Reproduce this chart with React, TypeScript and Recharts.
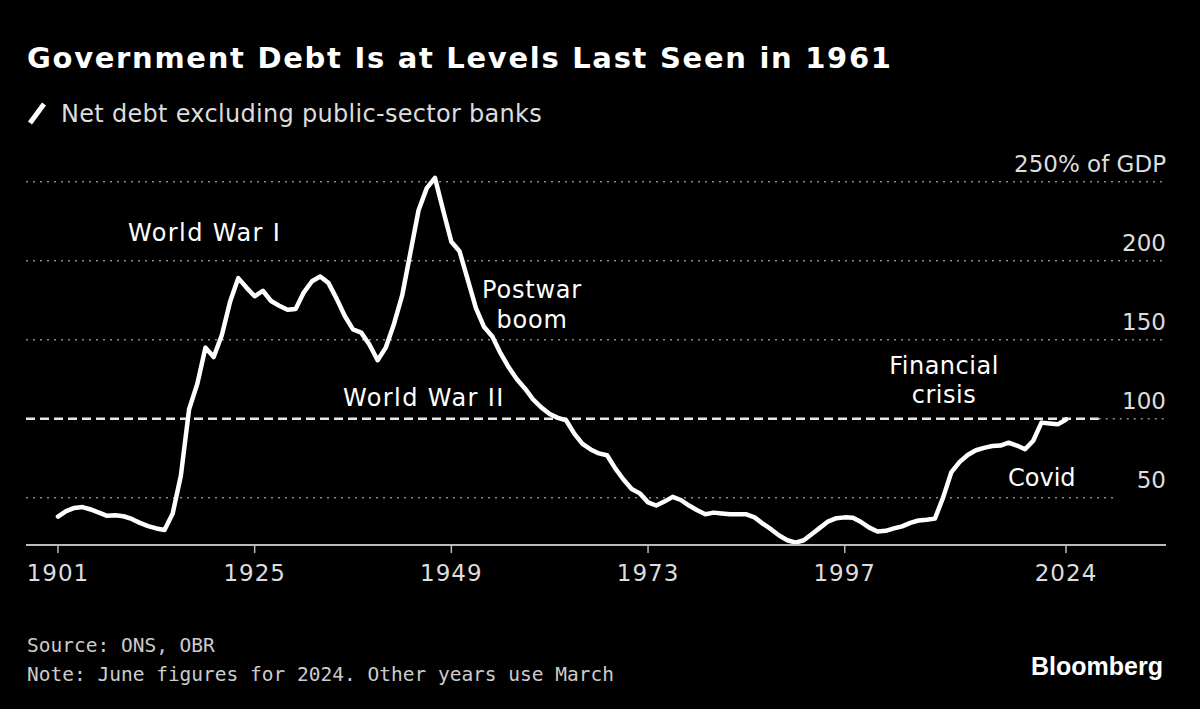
import React from "react";
import { LineChart, Line, XAxis, YAxis, ReferenceLine } from "recharts";

const startYear = 1901;
const debtValues = [
  38, 41.5, 43.5, 44, 42.5, 40.5, 38.5, 38.8, 38.2, 36.5,
  34, 32, 30.5, 29.5, 40, 64, 106, 122, 145, 139,
  153, 174, 189, 183, 177.5, 181, 174.5, 171.5, 169, 169.5,
  180, 187, 190, 186, 176, 165, 156.5, 154.5, 147, 137,
  145, 160, 178, 205, 232, 246, 252.5, 232, 212, 206,
  188, 170, 158, 152, 141.5, 132.5, 125, 119, 112, 107,
  103, 100.5, 99, 90.5, 84, 80.5, 78, 76.8, 68.5, 61.5,
  55.5, 52.7, 47, 45, 47.5, 50.5, 48.5, 45, 42, 39.5,
  40.5, 40, 39.5, 39.5, 39.4, 37.5, 33.5, 30, 26, 23,
  21.5, 23, 27, 31, 35, 37, 37.5, 37.3, 34.5, 31,
  28.5, 29, 30.5, 31.8, 34, 35.5, 36, 36.7, 50, 66,
  72.5, 77, 80, 81.5, 82.7, 83, 84.8, 83, 80.6, 86,
  97.5, 97, 96.4, 99.5,
];
const xTicks = [1901, 1925, 1949, 1973, 1997, 2024];
const yTicks = [50, 100, 150, 200, 250];
const yTickLabels: Record<number, string> = {
  50: "50",
  100: "100",
  150: "150",
  200: "200",
  250: "250% of GDP",
};
const dottedGrid = [150, 200, 250];

const data = debtValues.map((v, i) => ({ year: startYear + i, debt: v }));

const FONT = "'DejaVu Sans', sans-serif";
const MONO = "'DejaVu Sans Mono', monospace";
const X_MIN = 1897.1;
const X_MAX = 2036.2;

const YTick = (props: any) => {
  const { y, payload } = props;
  return (
    <text
      x={1166}
      y={y - 10}
      textAnchor="end"
      fill="#dddddd"
      fontSize={23}
      fontFamily={FONT}
    >
      {yTickLabels[payload.value]}
    </text>
  );
};

const XTick = (props: any) => {
  const { x, y, payload } = props;
  return (
    <text
      x={x}
      y={y + 26}
      textAnchor="middle"
      fill="#dddddd"
      fontSize={23}
      fontFamily={FONT}
      letterSpacing={1}
    >
      {payload.value}
    </text>
  );
};

export default function App() {
  return (
    <div
      style={{
        position: "fixed",
        left: 0,
        top: 0,
        width: 1200,
        height: 709,
        background: "#000",
        overflow: "hidden",
      }}
    >
      <style>{`body{margin:0;background:#000}`}</style>
      <LineChart
        width={1200}
        height={709}
        data={data}
        margin={{ top: 166, right: 34, bottom: 104, left: 26 }}
      >
        <XAxis
          dataKey="year"
          type="number"
          domain={[X_MIN, X_MAX]}
          ticks={xTicks}
          allowDataOverflow
          axisLine={{ stroke: "#bbbbbb", strokeWidth: 2 }}
          tickLine={{ stroke: "#bbbbbb", strokeWidth: 1.5 }}
          tickSize={8}
          height={60}
          tick={<XTick />}
          interval={0}
        />
        <YAxis
          orientation="right"
          mirror
          domain={[20, 260]}
          ticks={yTicks}
          allowDataOverflow
          axisLine={false}
          tickLine={false}
          tick={<YTick />}
          interval={0}
        />
        {dottedGrid.map((v) => (
          <ReferenceLine
            key={v}
            segment={[
              { x: X_MIN, y: v },
              { x: X_MAX, y: v },
            ]}
            stroke="#8a8a8a"
            strokeWidth={1.5}
            strokeDasharray="2 5"
          />
        ))}
        <ReferenceLine
          segment={[
            { x: X_MIN, y: 50 },
            { x: 2029.9, y: 50 },
          ]}
          stroke="#8a8a8a"
          strokeWidth={1.5}
          strokeDasharray="2 5"
        />
        <ReferenceLine
          segment={[
            { x: 2028, y: 100 },
            { x: X_MAX, y: 100 },
          ]}
          stroke="#8a8a8a"
          strokeWidth={1.5}
          strokeDasharray="2 5"
        />
        <ReferenceLine
          segment={[
            { x: X_MIN, y: 100 },
            { x: 2028, y: 100 },
          ]}
          stroke="#e8e8e8"
          strokeWidth={2.5}
          strokeDasharray="9 5"
        />
        <Line
          type="linear"
          dataKey="debt"
          stroke="#ffffff"
          strokeWidth={4.5}
          dot={false}
          isAnimationActive={false}
          strokeLinejoin="round"
          strokeLinecap="round"
        />
      </LineChart>
      <svg
        width={1200}
        height={709}
        style={{ position: "absolute", left: 0, top: 0, pointerEvents: "none" }}
      >
        <text
          x={27}
          y={68}
          fill="#ffffff"
          fontSize={29}
          fontWeight="bold"
          fontFamily={FONT}
          letterSpacing={1.7}
        >
          Government Debt Is at Levels Last Seen in 1961
        </text>
        <line x1={30} y1={123} x2={44} y2={104} stroke="#ffffff" strokeWidth={5} strokeLinecap="butt" />
        <text x={61} y={122} fill="#dddddd" fontSize={24} fontFamily={FONT} letterSpacing={0.3}>
          Net debt excluding public-sector banks
        </text>
        <g fill="#ffffff" fontSize={24} fontFamily={FONT}>
          <text x={128} y={241} letterSpacing={1.4}>World War I</text>
          <text x={343} y={406} letterSpacing={1.4}>World War II</text>
          <text x={532} y={298} textAnchor="middle" letterSpacing={0.8}>Postwar</text>
          <text x={532} y={328} textAnchor="middle" letterSpacing={0.8}>boom</text>
          <text x={944} y={374} textAnchor="middle" letterSpacing={0.5}>Financial</text>
          <text x={944} y={403} textAnchor="middle" letterSpacing={0.5}>crisis</text>
          <text x={1008} y={486}>Covid</text>
        </g>
        <g fill="#cccccc" fontSize={19.5} fontFamily={MONO}>
          <text x={27} y={652}>Source: ONS, OBR</text>
          <text x={27} y={681}>Note: June figures for 2024. Other years use March</text>
        </g>
        <text
          x={1163}
          y={675}
          textAnchor="end"
          fill="#ffffff"
          fontSize={25}
          fontWeight="bold"
          fontFamily="'Liberation Sans', Arial, sans-serif"
        >
          Bloomberg
        </text>
      </svg>
    </div>
  );
}
